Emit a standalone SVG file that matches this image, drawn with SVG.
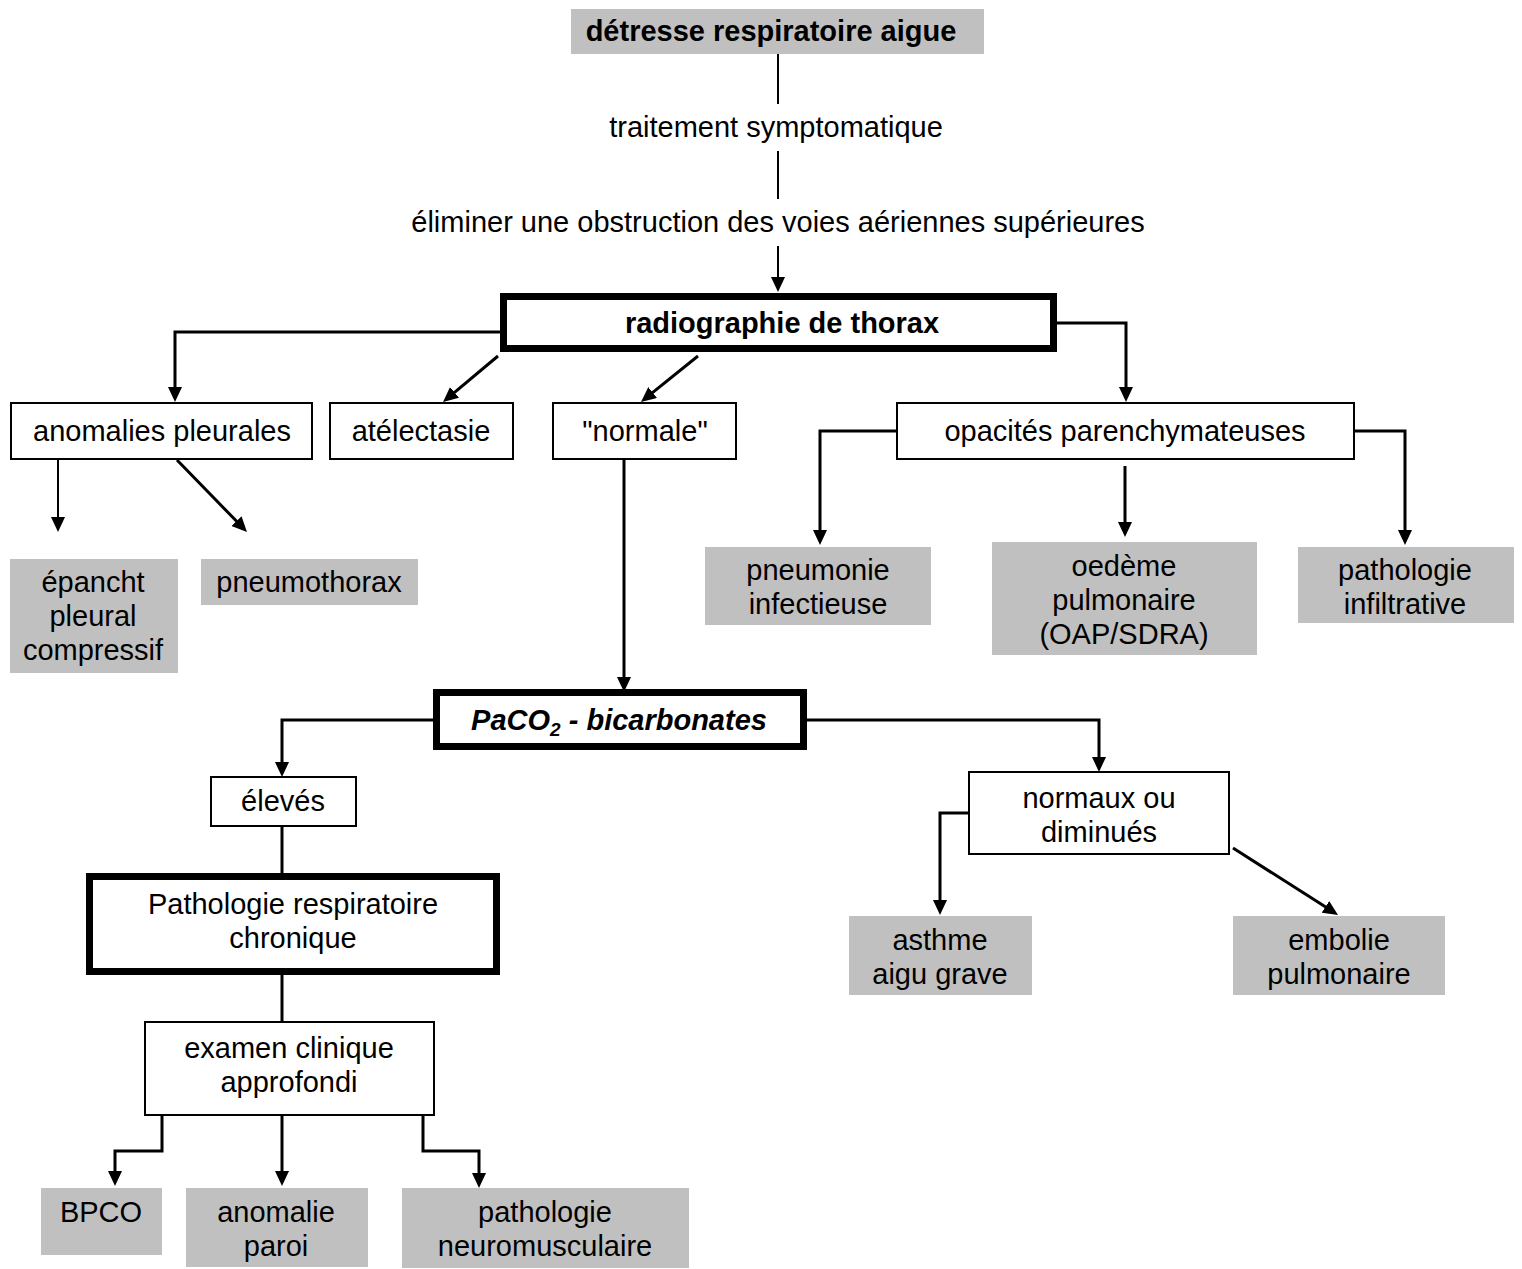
<svg xmlns="http://www.w3.org/2000/svg" width="1522" height="1269" viewBox="0 0 1522 1269">
<defs>
<style>
text{font-family:"Liberation Sans",Arial,sans-serif;font-size:29px;fill:#000;text-anchor:middle}
.b{font-weight:bold}
.bi{font-weight:bold;font-style:italic}
.box{fill:#fff;stroke:#000;stroke-width:2}
.thick{fill:#fff;stroke:#000;stroke-width:7}
.gray{fill:#c0c0c0}
.c{fill:none;stroke:#000;stroke-width:3}
.t{fill:none;stroke:#000;stroke-width:2}
.a{marker-end:url(#ah)}
</style>
<marker id="ah" markerUnits="userSpaceOnUse" markerWidth="15" markerHeight="14" refX="5" refY="7" orient="auto" viewBox="0 0 15 14">
<path d="M0,0 L15,7 L0,14 z" fill="#000"/>
</marker>
</defs>
<rect width="1522" height="1269" fill="#fff"/>
<g id="connectors">
<path class="t" d="M778,54 V104"/>
<path class="t" d="M778,151 V199"/>
<path class="t a" d="M778,246 V282"/>
<path class="c a" d="M500,332 H175 V392"/>
<path class="c a" d="M498,356 L450.7,395.6"/>
<path class="c a" d="M698,356 L648.8,395.7"/>
<path class="c a" d="M1057,323 H1126 V392"/>
<path class="t a" d="M58,460 V522"/>
<path class="c a" d="M177,460 L240,524.8"/>
<path class="c a" d="M624,459 V682"/>
<path class="c a" d="M897,431 H820 V535"/>
<path class="c a" d="M1125,466 V527"/>
<path class="c a" d="M1354,431 H1405 V535"/>
<path class="c a" d="M433,720 H282 V767"/>
<path class="c a" d="M807,720 H1099 V762"/>
<path class="c" d="M282,826 V873"/>
<path class="c" d="M282,975 V1022"/>
<path class="c a" d="M162,1115 V1151 H115 V1176"/>
<path class="c a" d="M282,1115 V1176"/>
<path class="c a" d="M423,1115 V1151 H479 V1178"/>
<path class="c a" d="M969,813 H940 V905"/>
<path class="c a" d="M1233,848 L1329.6,909.6"/>
</g>
<g id="n-detresse"><rect class="gray" x="571" y="9" width="413" height="45"/><text class="b" x="771" y="41">détresse respiratoire aigue</text></g>
<g id="n-traitement"><text x="776" y="137">traitement symptomatique</text></g>
<g id="n-eliminer"><text x="778" y="232">éliminer une obstruction des voies aériennes supérieures</text></g>
<g id="n-radio"><rect class="thick" x="503.5" y="296.5" width="550" height="52"/><text class="b" x="782" y="333">radiographie de thorax</text></g>
<g id="n-anomalies"><rect class="box" x="11" y="403" width="301" height="56"/><text x="162" y="441">anomalies pleurales</text></g>
<g id="n-atelectasie"><rect class="box" x="330" y="403" width="183" height="56"/><text x="421" y="441">atélectasie</text></g>
<g id="n-normale"><rect class="box" x="553" y="403" width="183" height="56"/><text x="645" y="441">"normale"</text></g>
<g id="n-opacites"><rect class="box" x="897" y="403" width="457" height="56"/><text x="1125" y="441">opacités parenchymateuses</text></g>
<g id="n-epancht"><rect class="gray" x="10" y="559" width="168" height="114"/><text x="93" y="592">épancht</text><text x="93" y="626">pleural</text><text x="93" y="660">compressif</text></g>
<g id="n-pneumothorax"><rect class="gray" x="201" y="559" width="217" height="46"/><text x="309" y="592">pneumothorax</text></g>
<g id="n-pneumonie"><rect class="gray" x="705" y="547" width="226" height="78"/><text x="818" y="580">pneumonie</text><text x="818" y="614">infectieuse</text></g>
<g id="n-oedeme"><rect class="gray" x="992" y="542" width="265" height="113"/><text x="1124" y="576">oedème</text><text x="1124" y="610">pulmonaire</text><text x="1124" y="644">(OAP/SDRA)</text></g>
<g id="n-infiltrative"><rect class="gray" x="1298" y="547" width="216" height="76"/><text x="1405" y="580">pathologie</text><text x="1405" y="614">infiltrative</text></g>
<g id="n-paco2"><rect class="thick" x="436.5" y="692.5" width="367" height="54"/><text class="bi" x="619" y="730">PaCO<tspan font-size="19" dy="6">2</tspan><tspan dy="-6"> - bicarbonates</tspan></text></g>
<g id="n-eleves"><rect class="box" x="211" y="777" width="145" height="49"/><text x="283" y="811">élevés</text></g>
<g id="n-chronique"><rect class="thick" x="89.5" y="876.5" width="407" height="95"/><text x="293" y="914">Pathologie respiratoire</text><text x="293" y="948">chronique</text></g>
<g id="n-examen"><rect class="box" x="145" y="1022" width="289" height="93"/><text x="289" y="1058">examen clinique</text><text x="289" y="1092">approfondi</text></g>
<g id="n-normaux"><rect class="box" x="969" y="772" width="260" height="82"/><text x="1099" y="808">normaux ou</text><text x="1099" y="842">diminués</text></g>
<g id="n-asthme"><rect class="gray" x="849" y="916" width="183" height="79"/><text x="940" y="950">asthme</text><text x="940" y="984">aigu grave</text></g>
<g id="n-embolie"><rect class="gray" x="1233" y="916" width="212" height="79"/><text x="1339" y="950">embolie</text><text x="1339" y="984">pulmonaire</text></g>
<g id="n-bpco"><rect class="gray" x="41" y="1188" width="121" height="67"/><text x="101" y="1222">BPCO</text></g>
<g id="n-paroi"><rect class="gray" x="186" y="1188" width="182" height="79"/><text x="276" y="1222">anomalie</text><text x="276" y="1256">paroi</text></g>
<g id="n-neuro"><rect class="gray" x="402" y="1188" width="287" height="80"/><text x="545" y="1222">pathologie</text><text x="545" y="1256">neuromusculaire</text></g>
</svg>
